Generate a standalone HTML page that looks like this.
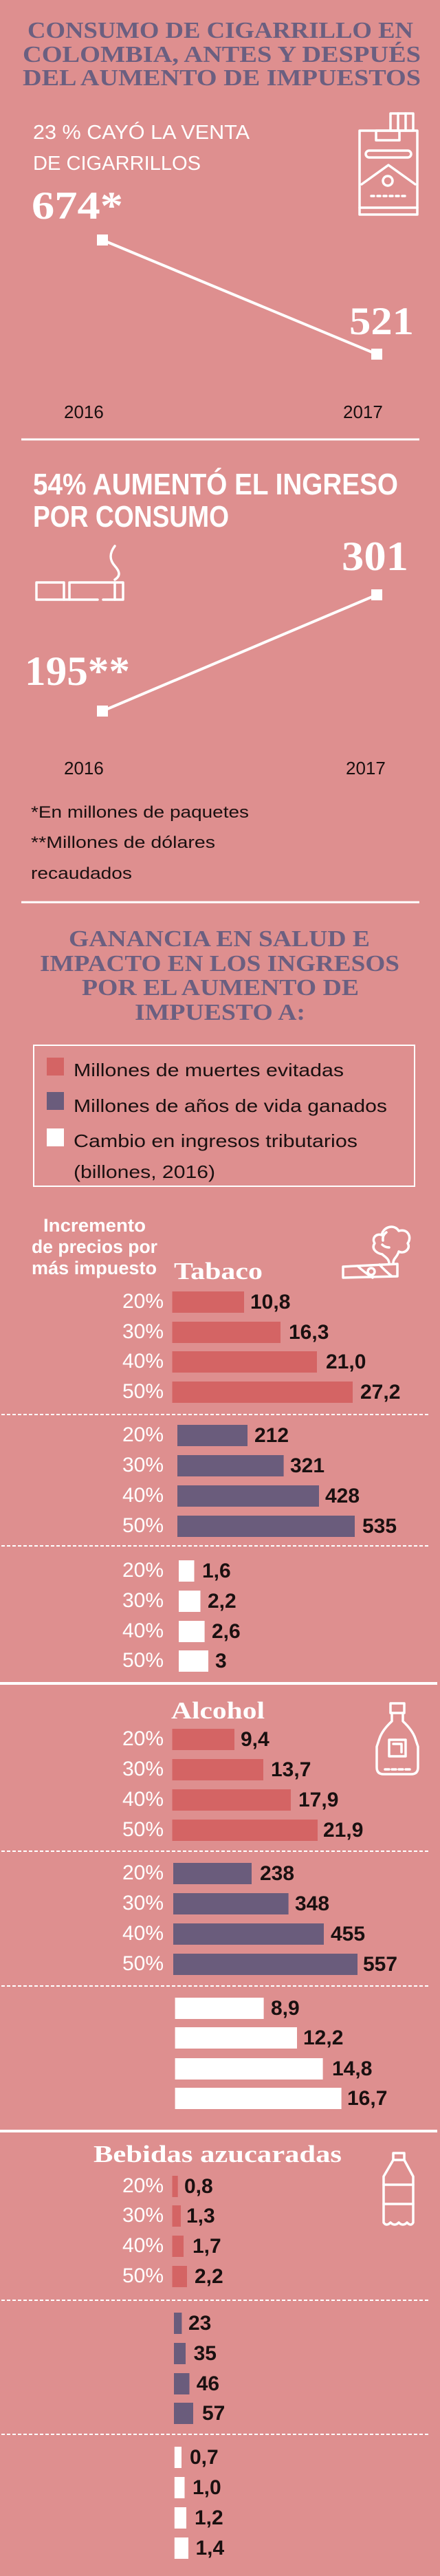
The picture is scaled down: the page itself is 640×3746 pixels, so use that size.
<!DOCTYPE html>
<html><head><meta charset="utf-8"><style>
html,body{margin:0;padding:0;background:#de8f8f;}
svg{display:block}
.t{font-family:"Liberation Serif",serif;font-weight:bold;fill:#6b5f80}
.s{font-family:"Liberation Sans",sans-serif;fill:#fff}
.k{font-family:"Liberation Sans",sans-serif;fill:#1a1010}
.lb{font-family:"Liberation Sans",sans-serif;fill:#fff;font-size:30px;text-anchor:end}
.v{font-family:"Liberation Sans",sans-serif;fill:#1a1010;font-size:30px;font-weight:bold}
.big{font-family:"Liberation Serif",serif;font-weight:bold;fill:#fff}
.ic{fill:none;stroke:#fff;stroke-width:3.5;stroke-linejoin:round;stroke-linecap:round}
</style></head><body>
<svg width="640" height="3746" viewBox="0 0 640 3746" xmlns="http://www.w3.org/2000/svg">
<rect width="640" height="3746" fill="#de8f8f"/>
<!-- Title 1 -->
<text class="t" x="40" y="55" font-size="34" textLength="561" lengthAdjust="spacingAndGlyphs">CONSUMO DE CIGARRILLO EN</text>
<text class="t" x="33" y="90" font-size="34" textLength="579" lengthAdjust="spacingAndGlyphs">COLOMBIA, ANTES Y DESPUÉS</text>
<text class="t" x="33" y="124" font-size="34" textLength="579" lengthAdjust="spacingAndGlyphs">DEL AUMENTO DE IMPUESTOS</text>

<text class="s" x="48" y="202" font-size="29" textLength="315" lengthAdjust="spacingAndGlyphs">23 % CAYÓ LA VENTA</text>
<text class="s" x="48" y="247" font-size="29" textLength="244" lengthAdjust="spacingAndGlyphs">DE CIGARRILLOS</text>
<text class="big" x="46" y="318" font-size="57" textLength="133" lengthAdjust="spacingAndGlyphs">674*</text>
<text class="big" x="508" y="486" font-size="57" textLength="94" lengthAdjust="spacingAndGlyphs">521</text>
<line x1="149" y1="349" x2="548" y2="515" stroke="#fff" stroke-width="4"/>
<rect x="141" y="341" width="16" height="16" fill="#fff"/>
<rect x="540" y="507" width="16" height="16" fill="#fff"/>
<text class="k" x="93" y="608" font-size="26">2016</text>
<text class="k" x="499" y="608" font-size="26">2017</text>
<!-- pack icon -->
<g class="ic">
<rect x="523" y="190" width="84" height="122"/>
<rect x="568" y="165" width="33" height="25"/>
<line x1="579" y1="165" x2="579" y2="190"/><line x1="590" y1="165" x2="590" y2="190"/>
<rect x="547" y="190" width="34" height="14"/>
<rect x="532" y="219" width="66" height="10" rx="5"/>
<path d="M526 268 L565 240 L604 268"/>
<circle cx="564" cy="263" r="7"/>
<line x1="540" y1="285" x2="590" y2="285" stroke-dasharray="4 5"/>
<line x1="523" y1="302" x2="607" y2="302"/>
</g>
<line x1="31" y1="639" x2="610" y2="639" stroke="#fff" stroke-width="3"/>

<!-- section 2 -->
<text class="s" x="48" y="719" font-size="44" font-weight="bold" textLength="531" lengthAdjust="spacingAndGlyphs">54% AUMENTÓ EL INGRESO</text>
<text class="s" x="48" y="766" font-size="44" font-weight="bold" textLength="285" lengthAdjust="spacingAndGlyphs">POR CONSUMO</text>
<g class="ic" stroke-width="3">
<path d="M92 847 L53 847 L53 872 L142 872"/>
<path d="M150 872 L179 872 L179 847 L103 847"/>
<line x1="93" y1="847" x2="93" y2="872"/><line x1="101" y1="847" x2="101" y2="872"/>
<line x1="167" y1="847" x2="167" y2="872"/>
<path d="M167 794 C158 806 160 815 167 823 C174 831 176 837 167 843"/>
</g>
<text class="big" x="497" y="829" font-size="60" textLength="97" lengthAdjust="spacingAndGlyphs">301</text>
<text class="big" x="36" y="996" font-size="60" textLength="153" lengthAdjust="spacingAndGlyphs">195**</text>
<line x1="149" y1="1034" x2="548" y2="865" stroke="#fff" stroke-width="4"/>
<rect x="141" y="1026" width="16" height="16" fill="#fff"/>
<rect x="540" y="857" width="16" height="16" fill="#fff"/>
<text class="k" x="93" y="1126" font-size="26">2016</text>
<text class="k" x="503" y="1126" font-size="26">2017</text>
<text class="k" x="45" y="1189" font-size="24" textLength="317" lengthAdjust="spacingAndGlyphs">*En millones de paquetes</text>
<text class="k" x="45" y="1233" font-size="24" textLength="268" lengthAdjust="spacingAndGlyphs">**Millones de dólares</text>
<text class="k" x="45" y="1278" font-size="24" textLength="147" lengthAdjust="spacingAndGlyphs">recaudados</text>
<line x1="31" y1="1312" x2="610" y2="1312" stroke="#fff" stroke-width="3"/>

<!-- Title 2 -->
<text class="t" x="100" y="1376" font-size="34" textLength="438" lengthAdjust="spacingAndGlyphs">GANANCIA EN SALUD E</text>
<text class="t" x="58" y="1412" font-size="34" textLength="523" lengthAdjust="spacingAndGlyphs">IMPACTO EN LOS INGRESOS</text>
<text class="t" x="119" y="1447" font-size="34" textLength="403" lengthAdjust="spacingAndGlyphs">POR EL AUMENTO DE</text>
<text class="t" x="196" y="1483" font-size="34" textLength="248" lengthAdjust="spacingAndGlyphs">IMPUESTO A:</text>

<!-- legend -->
<rect x="49" y="1520" width="554" height="205" fill="none" stroke="#fff" stroke-width="2"/>
<rect x="68" y="1538" width="25" height="26" fill="#d46464"/>
<rect x="68" y="1588" width="25" height="26" fill="#6a5c7c"/>
<rect x="68" y="1641" width="25" height="26" fill="#fff"/>
<text class="k" x="107" y="1565" font-size="26" textLength="393" lengthAdjust="spacingAndGlyphs">Millones de muertes evitadas</text>
<text class="k" x="107" y="1617" font-size="26" textLength="456" lengthAdjust="spacingAndGlyphs">Millones de años de vida ganados</text>
<text class="k" x="107" y="1668" font-size="26" textLength="413" lengthAdjust="spacingAndGlyphs">Cambio en ingresos tributarios</text>
<text class="k" x="107" y="1713" font-size="26" textLength="206" lengthAdjust="spacingAndGlyphs">(billones, 2016)</text>

<text class="s" x="63" y="1791" font-size="27" font-weight="bold" textLength="149" lengthAdjust="spacingAndGlyphs">Incremento</text>
<text class="s" x="46" y="1822" font-size="27" font-weight="bold" textLength="183" lengthAdjust="spacingAndGlyphs">de precios por</text>
<text class="s" x="46" y="1853" font-size="27" font-weight="bold" textLength="182" lengthAdjust="spacingAndGlyphs">más impuesto</text>
<text class="big" x="253" y="1860" font-size="35" textLength="129" lengthAdjust="spacingAndGlyphs">Tabaco</text>
<!-- cigar icon -->
<g class="ic" stroke-width="3">
<path d="M499 1842 L578 1838 L578 1856 L499 1858 Z"/>
<path d="M520 1841 Q530 1850 542 1858"/><path d="M552 1839 Q560 1848 570 1856"/>
<circle cx="540" cy="1849" r="5"/>
<path d="M566 1838 C566 1830 560 1828 556 1824 C546 1822 540 1815 545 1808 C540 1800 548 1793 555 1796 C558 1783 574 1780 580 1790 C592 1786 600 1798 593 1808 C598 1816 588 1824 580 1820 C578 1828 572 1830 572 1836"/>
<path d="M556 1810 q4 4 10 4"/><path d="M562 1792 q-6 4 -5 12"/>
</g>

<!-- Tabaco red -->
<g fill="#d46464">
<rect x="250.5" y="1878" width="104.5" height="31"/><rect x="250.5" y="1922" width="157.5" height="31"/>
<rect x="250.5" y="1965" width="210.5" height="31"/><rect x="250.5" y="2009" width="262.5" height="31"/>
</g>
<text class="lb" x="238" y="1902">20%</text><text class="lb" x="238" y="1946">30%</text><text class="lb" x="238" y="1989">40%</text><text class="lb" x="238" y="2033">50%</text>
<text class="v" x="364" y="1903">10,8</text><text class="v" x="420" y="1947">16,3</text><text class="v" x="474" y="1990">21,0</text><text class="v" x="524" y="2034">27,2</text>
<line x1="2" y1="2057" x2="626" y2="2057" stroke="#fff" stroke-width="2" stroke-dasharray="5 3"/>
<!-- Tabaco purple -->
<g fill="#6a5c7c">
<rect x="258" y="2072" width="102" height="31"/><rect x="258" y="2116" width="154.6" height="31"/>
<rect x="258" y="2160" width="206" height="31"/><rect x="258" y="2204" width="258" height="31"/>
</g>
<text class="lb" x="238" y="2096">20%</text><text class="lb" x="238" y="2140">30%</text><text class="lb" x="238" y="2184">40%</text><text class="lb" x="238" y="2228">50%</text>
<text class="v" x="370" y="2097">212</text><text class="v" x="422" y="2141">321</text><text class="v" x="473" y="2185">428</text><text class="v" x="527" y="2229">535</text>
<line x1="2" y1="2248" x2="626" y2="2248" stroke="#fff" stroke-width="2" stroke-dasharray="5 3"/>
<!-- Tabaco white -->
<g fill="#fff">
<rect x="260" y="2269" width="22.5" height="31"/><rect x="260" y="2313" width="31.5" height="31"/>
<rect x="260" y="2357" width="37.6" height="31"/><rect x="260" y="2400" width="43" height="31"/>
</g>
<text class="lb" x="238" y="2293">20%</text><text class="lb" x="238" y="2337">30%</text><text class="lb" x="238" y="2381">40%</text><text class="lb" x="238" y="2424">50%</text>
<text class="v" x="294" y="2294">1,6</text><text class="v" x="302" y="2338">2,2</text><text class="v" x="308" y="2382">2,6</text><text class="v" x="313" y="2425">3</text>
<line x1="0" y1="2448" x2="636" y2="2448" stroke="#fff" stroke-width="4"/>

<!-- Alcohol -->
<text class="big" x="249" y="2499" font-size="35" textLength="136" lengthAdjust="spacingAndGlyphs">Alcohol</text>
<g class="ic" stroke-width="3">
<rect x="568" y="2477" width="20" height="14"/>
<path d="M570 2491 L570 2503 Q556 2516 552 2528 L548 2540 L548 2570 Q548 2580 558 2580 L598 2580 Q608 2580 608 2570 L608 2540 L604 2528 Q600 2516 586 2503 L586 2491"/>
<rect x="566" y="2530" width="24" height="24"/><path d="M572 2536 L584 2536 L584 2548"/>
<line x1="560" y1="2573" x2="596" y2="2573" stroke-dasharray="6 4"/>
</g>
<g fill="#d46464">
<rect x="250.5" y="2514" width="90.5" height="31"/><rect x="250.5" y="2558" width="132.5" height="31"/>
<rect x="250.5" y="2602" width="172.5" height="31"/><rect x="250.5" y="2646" width="211.5" height="31"/>
</g>
<text class="lb" x="238" y="2538">20%</text><text class="lb" x="238" y="2582">30%</text><text class="lb" x="238" y="2626">40%</text><text class="lb" x="238" y="2670">50%</text>
<text class="v" x="350" y="2539">9,4</text><text class="v" x="394" y="2583">13,7</text><text class="v" x="434" y="2627">17,9</text><text class="v" x="470" y="2671">21,9</text>
<line x1="2" y1="2692" x2="626" y2="2692" stroke="#fff" stroke-width="2" stroke-dasharray="5 3"/>
<g fill="#6a5c7c">
<rect x="252" y="2709" width="114" height="31"/><rect x="252" y="2753" width="167.6" height="31"/>
<rect x="252" y="2797" width="219" height="31"/><rect x="252" y="2841" width="268" height="31"/>
</g>
<text class="lb" x="238" y="2733">20%</text><text class="lb" x="238" y="2777">30%</text><text class="lb" x="238" y="2821">40%</text><text class="lb" x="238" y="2865">50%</text>
<text class="v" x="378" y="2734">238</text><text class="v" x="429" y="2778">348</text><text class="v" x="481" y="2822">455</text><text class="v" x="528" y="2866">557</text>
<line x1="2" y1="2888" x2="626" y2="2888" stroke="#fff" stroke-width="2" stroke-dasharray="5 3"/>
<g fill="#fff">
<rect x="254.6" y="2905" width="129" height="31"/><rect x="254.6" y="2948" width="177.4" height="31"/>
<rect x="254.6" y="2993" width="215" height="31"/><rect x="254.6" y="3036" width="242" height="31"/>
</g>
<text class="v" x="394" y="2930">8,9</text><text class="v" x="441" y="2973">12,2</text><text class="v" x="483" y="3018">14,8</text><text class="v" x="505" y="3061">16,7</text>
<line x1="0" y1="3099" x2="636" y2="3099" stroke="#fff" stroke-width="4"/>

<!-- Bebidas -->
<text class="big" x="136" y="3144" font-size="35" textLength="361" lengthAdjust="spacingAndGlyphs">Bebidas azucaradas</text>
<g class="ic" stroke-width="3">
<rect x="572" y="3131" width="16" height="10"/>
<path d="M572 3141 L558 3165 L558 3232 Q562 3238 568 3232 Q574 3238 580 3232 Q586 3238 592 3232 Q598 3238 601 3232 L601 3165 L588 3141"/>
<line x1="558" y1="3177" x2="601" y2="3177"/><line x1="558" y1="3205" x2="601" y2="3205"/>
</g>
<g fill="#d46464">
<rect x="250.5" y="3164" width="8.2" height="31"/><rect x="250.5" y="3207" width="12.5" height="31"/>
<rect x="250.5" y="3251" width="16.5" height="31"/><rect x="250.5" y="3295" width="21.5" height="31"/>
</g>
<text class="lb" x="238" y="3188">20%</text><text class="lb" x="238" y="3231">30%</text><text class="lb" x="238" y="3275">40%</text><text class="lb" x="238" y="3319">50%</text>
<text class="v" x="268" y="3189">0,8</text><text class="v" x="271" y="3232">1,3</text><text class="v" x="280" y="3276">1,7</text><text class="v" x="283" y="3320">2,2</text>
<line x1="2" y1="3345" x2="626" y2="3345" stroke="#fff" stroke-width="2" stroke-dasharray="5 3"/>
<g fill="#6a5c7c">
<rect x="253" y="3363" width="11.4" height="31"/><rect x="253" y="3407" width="17" height="31"/>
<rect x="253" y="3451" width="22.5" height="31"/><rect x="253" y="3494" width="28" height="31"/>
</g>
<text class="v" x="274" y="3388">23</text><text class="v" x="281.6" y="3432">35</text><text class="v" x="285.7" y="3476">46</text><text class="v" x="294" y="3519">57</text>
<line x1="2" y1="3540" x2="626" y2="3540" stroke="#fff" stroke-width="2" stroke-dasharray="5 3"/>
<g fill="#fff">
<rect x="253.8" y="3558" width="10.2" height="31"/><rect x="253.8" y="3602" width="14.7" height="31"/>
<rect x="253.8" y="3646" width="17.2" height="31"/><rect x="253.8" y="3690" width="20.2" height="31"/>
</g>
<text class="v" x="276" y="3583">0,7</text><text class="v" x="280" y="3627">1,0</text><text class="v" x="283" y="3671">1,2</text><text class="v" x="284.5" y="3715">1,4</text>
</svg>
</body></html>
